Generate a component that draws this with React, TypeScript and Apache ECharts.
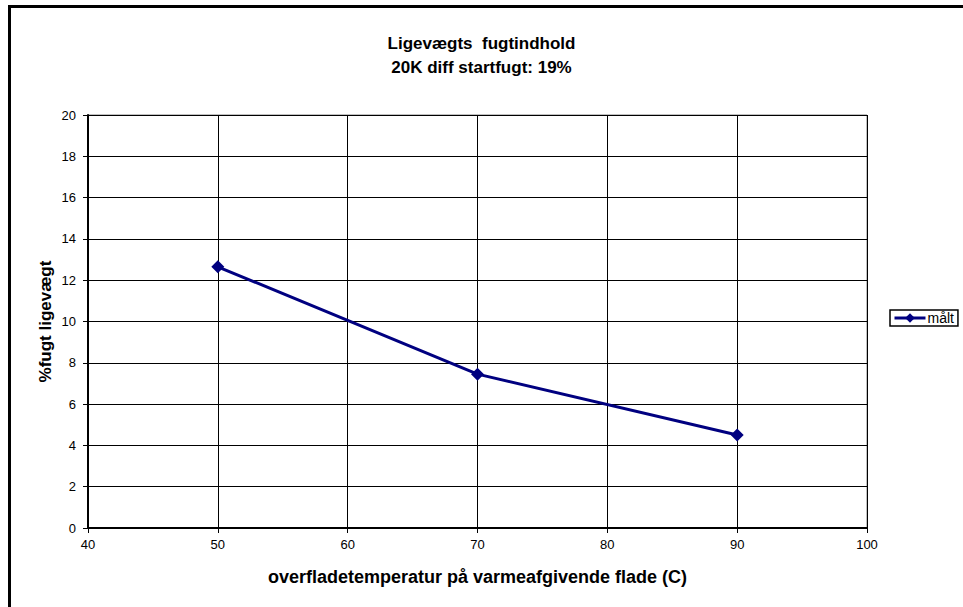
import React, { useEffect, useRef } from "react";
import * as echarts from "echarts";

const titleLines = ["Ligevægts  fugtindhold", "20K diff startfugt: 19%"];
const xName = "overfladetemperatur på varmeafgivende flade (C)";
const yName = "%fugt ligevægt";
const seriesName = "målt";
const temps = [50, 70, 90];
const moisture = [12.65, 7.45, 4.5];

export default function App() {
  const ref = useRef<HTMLDivElement>(null);
  useEffect(() => {
    const chart = echarts.init(ref.current!, null, { renderer: "svg" });
    const font = "'Liberation Sans', Arial, sans-serif";
    chart.setOption({
      animation: false,
      backgroundColor: "#ffffff",
      textStyle: { fontFamily: font },
      title: {
        text: titleLines.join("\n"),
        left: "center",
        top: 26,
        textStyle: { fontSize: 17, fontWeight: "bold", color: "#000", lineHeight: 24, fontFamily: font },
      },
      legend: {
        data: [{ name: seriesName }],
        left: 890,
        top: 310,
        orient: "vertical",
        itemWidth: 31,
        itemHeight: 12,
        itemGap: 2,
        padding: [1, 4, 1, 3],
        borderColor: "#000",
        borderWidth: 1.5,
        lineStyle: { width: 3, color: "#000080" },
        itemStyle: { color: "#000080" },
        textStyle: { fontSize: 14, color: "#000", fontFamily: font, padding: [0, 0, 0, -3] },
      },
      grid: { left: 88, top: 115, width: 779, height: 413, show: true, borderColor: "#808080", borderWidth: 1 },
      xAxis: {
        type: "value",
        min: 40,
        max: 100,
        interval: 10,
        name: xName,
        nameLocation: "middle",
        nameGap: 40,
        nameMoveOverlap: false,
        nameTextStyle: { fontSize: 18, fontWeight: "bold", color: "#000", fontFamily: font },
        axisLine: { show: true, lineStyle: { color: "#000", width: 2 } },
        axisTick: { show: true, length: 5, lineStyle: { color: "#000", width: 1 } },
        axisLabel: { fontSize: 13, color: "#000", margin: 10, fontFamily: font },
        splitLine: { show: true, lineStyle: { color: "#000", width: 1 } },
      },
      yAxis: {
        type: "value",
        min: 0,
        max: 20,
        interval: 2,
        name: yName,
        nameLocation: "middle",
        nameGap: 34,
        nameMoveOverlap: false,
        nameTextStyle: { fontSize: 17, fontWeight: "bold", color: "#000", fontFamily: font },
        axisLine: { show: true, lineStyle: { color: "#000", width: 2 } },
        axisTick: { show: true, length: 5, lineStyle: { color: "#000", width: 1 } },
        axisLabel: { fontSize: 13, color: "#000", margin: 12, fontFamily: font },
        splitLine: { show: true, lineStyle: { color: "#000", width: 1 } },
      },
      series: [
        {
          name: seriesName,
          type: "line",
          data: temps.map((t, i) => [t, moisture[i]]),
          symbol: "diamond",
          symbolSize: 13,
          lineStyle: { color: "#000080", width: 3 },
          itemStyle: { color: "#000080" },
        },
      ],
      graphic: [
        {
          type: "rect",
          shape: { x: 9.5, y: 6.5, width: 1000, height: 700 },
          style: { fill: "none", stroke: "#000", lineWidth: 3 },
          silent: true,
        },
      ],
    });
    return () => chart.dispose();
  }, []);
  return (
    <div
      ref={ref}
      style={{ position: "absolute", left: 0, top: 0, width: 963, height: 607 }}
    />
  );
}
